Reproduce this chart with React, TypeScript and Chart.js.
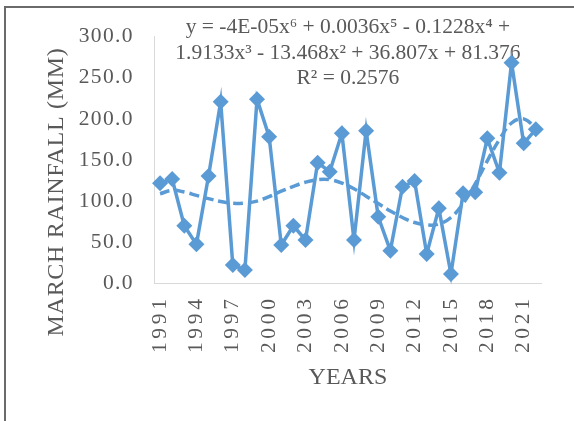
import React, { useEffect, useRef } from 'react';
import { Chart, registerables } from 'chart.js';

Chart.register(...registerables);

const years = [
  '1991', '1992', '1993', '1994', '1995', '1996', '1997', '1998', '1999', '2000',
  '2001', '2002', '2003', '2004', '2005', '2006', '2007', '2008', '2009', '2010',
  '2011', '2012', '2013', '2014', '2015', '2016', '2017', '2018', '2019', '2020',
  '2021', '2022',
];

const rainfall = [
  121.6, 126.9, 70.0, 47.4, 130.5, 221.0, 22.3, 16.2, 224.0, 178.4,
  46.6, 70.0, 52.7, 146.7, 135.8, 182.5, 52.7, 185.6, 81.0, 39.7,
  117.5, 124.5, 35.6, 91.2, 11.3, 109.5, 110.7, 176.4, 134.5, 268.4,
  170.3, 187.3,
];

const trendline = [
  109, 113, 111, 107, 103, 99.5, 97.5, 97.5, 100, 105.5,
  112, 118, 123, 126, 126, 122, 115, 106, 97, 88,
  80, 74, 71, 72, 80, 97, 121, 149, 175, 195,
  200, 189,
];

const yTicksMin = 0;
const yTicksMax = 300;
const yTicksStep = 50;

const equationLines = [
  'y = -4E-05x\u2076 + 0.0036x\u2075 - 0.1228x\u2074 +',
  '1.9133x\u00B3 - 13.468x\u00B2 + 36.807x + 81.376',
  'R\u00B2 = 0.2576',
];
const xTitle = 'YEARS';
const yTitle = 'MARCH RAINFALL (MM)';

const BLUE = '#5B9BD5';
const TEXT = '#595959';
const FONT = "'Liberation Serif', serif";

export default function App() {
  const canvasRef = useRef<HTMLCanvasElement | null>(null);

  useEffect(() => {
    const canvas = canvasRef.current;
    if (!canvas) return;

    const textPlugin = {
      id: 'textPlugin',
      beforeDraw(chart: any) {
        const xs = chart.scales.x;
        if (xs && !xs.__wrapped) {
          const orig = xs.drawLabels.bind(xs);
          xs.drawLabels = (area: any) => {
            const c = chart.ctx;
            c.save();
            c.letterSpacing = '3.7px';
            orig(area);
            c.restore();
          };
          xs.__wrapped = true;
        }
        const ys = chart.scales.y;
        if (ys && !ys.__wrapped) {
          const orig = ys.drawLabels.bind(ys);
          ys.drawLabels = (area: any) => {
            const c = chart.ctx;
            c.save();
            c.letterSpacing = '1.4px';
            orig(area);
            c.restore();
          };
          ys.__wrapped = true;
        }
      },
      beforeDatasetsDraw(chart: any) {
        const ctx = chart.ctx;
        const area = chart.chartArea;
        const cx = (area.left + area.right) / 2;
        ctx.save();
        ctx.fillStyle = TEXT;
        ctx.font = `21.5px ${FONT}`;
        ctx.textAlign = 'center';
        ctx.textBaseline = 'alphabetic';
        const baselines = [33, 59, 84];
        equationLines.forEach((t, i) => ctx.fillText(t, cx, baselines[i]));

        // x title
        ctx.font = `24px ${FONT}`;
        ctx.fillText(xTitle, cx, 384);

        // y title
        ctx.translate(63, 192);
        ctx.rotate(-Math.PI / 2);
        ctx.letterSpacing = '0.7px';
        ctx.fillText(yTitle, 0, 0);
        ctx.restore();
      },
    };

    const chart = new Chart(canvas, {
      type: 'line',
      data: {
        labels: years,
        datasets: [
          {
            label: 'March rainfall',
            data: rainfall,
            borderColor: BLUE,
            backgroundColor: BLUE,
            borderWidth: 3.5,
            pointStyle: 'rectRot',
            pointRadius: 8,
            pointBorderWidth: 0,
            pointBackgroundColor: BLUE,
            tension: 0,
            clip: false,
          },
          {
            label: 'Poly. (March rainfall)',
            data: trendline,
            borderColor: BLUE,
            borderWidth: 3.5,
            borderDash: [10, 5],
            pointRadius: 0,
            tension: 0.4,
            fill: false,
            clip: false,
          },
        ],
      },
      options: {
        responsive: false,
        animation: false,
        devicePixelRatio: 1,
        layout: { padding: { top: 36.7, right: 26, bottom: 0, left: 0 } },
        plugins: {
          legend: { display: false },
          tooltip: { enabled: false },
        },
        scales: {
          x: {
            type: 'category',
            offset: true,
            grid: { display: false, drawTicks: false },
            border: { display: true, color: '#D9D9D9', width: 1 },
            ticks: {
              autoSkip: false,
              maxRotation: 90,
              minRotation: 90,
              padding: 12,
              color: TEXT,
              font: { family: FONT, size: 21.5 },
              callback: (_v: any, i: number) => (i % 3 === 0 ? years[i] : ''),
            },
            afterFit: (s: any) => {
              s.height = 137.7;
            },
          },
          y: {
            min: yTicksMin,
            max: yTicksMax,
            grid: { display: false, drawTicks: false },
            border: { display: true, color: '#D9D9D9', width: 1 },
            ticks: {
              stepSize: yTicksStep,
              padding: 20,
              color: TEXT,
              font: { family: FONT, size: 21.5 },
              callback: (v: any) => Number(v).toFixed(1),
            },
            afterFit: (s: any) => {
              s.width = 154;
            },
          },
        },
      },
      plugins: [textPlugin],
    });

    return () => chart.destroy();
  }, []);

  return (
    <div
      style={{
        position: 'fixed',
        left: 0,
        top: 0,
        width: 574,
        height: 421,
        overflow: 'hidden',
        background: '#fff',
      }}
    >
      <div
        style={{
          position: 'absolute',
          left: 4,
          top: 6,
          width: 700,
          height: 600,
          borderTop: '2px solid #6b6b6b',
          borderLeft: '2px solid #6b6b6b',
        }}
      />
      <canvas
        ref={canvasRef}
        width={574}
        height={421}
        style={{ position: 'absolute', left: 0, top: 0, width: 574, height: 421 }}
      />
    </div>
  );
}
